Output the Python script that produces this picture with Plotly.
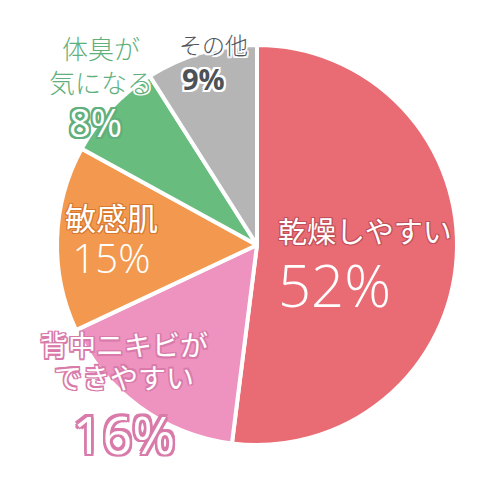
import plotly.graph_objects as go

labels = ["乾燥しやすい", "背中ニキビができやすい", "敏感肌", "体臭が気になる", "その他"]
values = [52, 16, 15, 8, 9]
colors = ["#E96B73", "#EE92BF", "#F2994F", "#67BC7E", "#B5B5B5"]

FONT_JP = "Noto Sans CJK JP"
FONT_NUM = "Open Sans"


def outline(color, w=1.5):
    dirs = [(1, 0), (-1, 0), (0, 1), (0, -1), (1, 1), (-1, -1), (1, -1), (-1, 1)]
    return ", ".join(f"{dx * w}px {dy * w}px 0 {color}" for dx, dy in dirs)


def label(fig, text, px, py, size, color, stroke=None, weight=400, w=1.5, family=FONT_JP):
    font = dict(family=family, size=size, color=color, weight=weight)
    if stroke:
        font["shadow"] = outline(stroke, w)
    fig.add_annotation(
        text=text, x=px / 500, y=1 - py / 500, xref="paper", yref="paper",
        showarrow=False, font=font, xanchor="center", yanchor="middle",
    )


def num_span(text, size, weight=300, shadow="none"):
    return (
        f"<span style=\"font-family:'{FONT_NUM}';font-size:{size}px;"
        f"font-weight:{weight};text-shadow:{shadow}\">{text}</span>"
    )


def jp_span(text, size):
    return f'<span style="font-size:{size}px">{text}</span>'


fig = go.Figure(
    go.Pie(
        labels=labels,
        values=values,
        sort=False,
        direction="clockwise",
        rotation=0,
        marker=dict(colors=colors, line=dict(color="white", width=4)),
        textinfo="none",
        hoverinfo="skip",
        domain=dict(x=[0.114, 0.914], y=[0.110, 0.910]),
    )
)

# 乾燥しやすい
label(fig, "乾燥しやすい", 365, 230, 29, "white", "#C2505A", 400, 1)
label(fig, "52%", 334, 284, 58, "white", None, 300, family=FONT_NUM)
# 背中ニキビ
label(
    fig,
    jp_span("背中ニキビが", 28) + "<br>" + jp_span("できやすい", 28) + "<br><br>"
    + num_span("16%", 52, 500, outline("#D97BAA", 2.5)),
    124, 396, 25, "white", "#D97BAA", 400, 1.5,
)
# 敏感肌
label(
    fig,
    jp_span("敏感肌", 31) + "<br>" + num_span("15%", 40),
    111, 239, 33, "white", "#D9782F", 400, 1,
)
# 体臭
label(fig, "体臭が<br>気になる", 101, 64, 26, "#5FB07C", "white", 300, 1.5)
label(fig, "8%", 95, 122, 38, "white", "#5FB07C", 400, 2, family=FONT_NUM)
# その他
label(fig, "その他", 213, 44, 23, "#50555C", "white", 300, 1.5)
label(fig, "9%", 203, 78, 29, "#4D5258", "white", 700, 2, family=FONT_NUM)

fig.update_layout(
    width=500,
    height=500,
    margin=dict(l=0, r=0, t=0, b=0),
    paper_bgcolor="white",
    plot_bgcolor="white",
    showlegend=False,
)

fig.write_html(
    "out.html",
    config=dict(displayModeBar=False),
    post_script="document.body.style.margin='0';",
)
